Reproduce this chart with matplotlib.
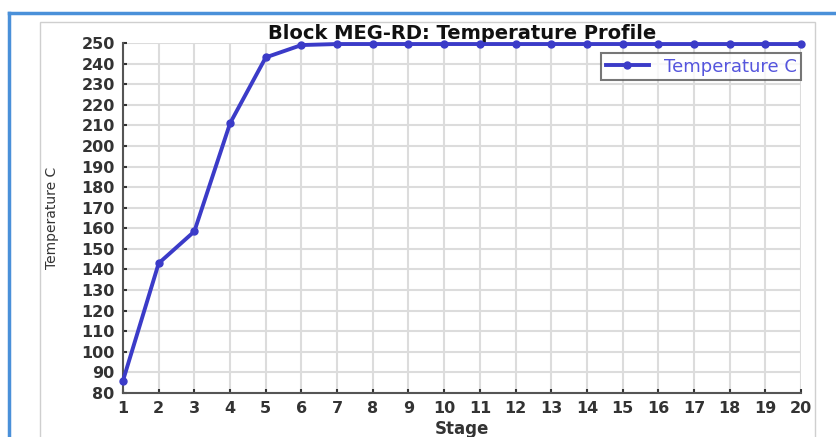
import matplotlib.pyplot as plt
from matplotlib.lines import Line2D
from matplotlib.patches import Rectangle

# Stage temperatures for block MEG-RD
stages = list(range(1, 21))
temperature_c = [86, 143, 158.5, 211, 243, 249, 249.5, 249.5, 249.5, 249.5,
                 249.5, 249.5, 249.5, 249.5, 249.5, 249.5, 249.5, 249.5, 249.5, 249.5]
y_ticks = list(range(80, 251, 10))

line_color = '#3b3bc8'
text_color = '#333333'

fig = plt.figure(figsize=(8.37, 4.37), dpi=100)
fig.patch.set_facecolor('white')

# window frame: blue top/left edge and grey inner panel
W, H = 837, 437
fig.add_artist(Line2D([9 / W, 1], [1 - 13 / H] * 2, color='#4a90d9', lw=2.5, transform=fig.transFigure))
fig.add_artist(Line2D([9 / W] * 2, [0, 1 - 13 / H], color='#4a90d9', lw=2.5, transform=fig.transFigure))
fig.add_artist(Rectangle((40 / W, -0.01), (815 - 40) / W, 1 - 22 / H + 0.01, fill=False,
                         ec='#cfcfcf', lw=1, transform=fig.transFigure))

ax = fig.add_axes([123 / W, 1 - 393 / H, (801 - 123) / W, (393 - 43) / H])
ax.plot(stages, temperature_c, color=line_color, lw=2.8, marker='o', ms=5,
        label='Temperature C', clip_on=False, zorder=5)

ax.set_xlim(1, 20)
ax.set_ylim(80, 250)
ax.set_xticks(stages)
ax.set_yticks(y_ticks)
ax.grid(True, color='#dcdcdc', lw=1.5)
ax.set_axisbelow(True)
for side in ('top', 'right'):
    ax.spines[side].set_visible(False)
for side in ('left', 'bottom'):
    ax.spines[side].set_color('#555555')
    ax.spines[side].set_linewidth(1.5)
ax.tick_params(direction='in', length=3, width=1.5, color='#333333', pad=6,
               labelsize=11.5, labelcolor=text_color)
for lbl in ax.get_xticklabels() + ax.get_yticklabels():
    lbl.set_fontweight('bold')

ax.set_title('Block MEG-RD: Temperature Profile', fontsize=14, fontweight='bold',
             color='#111111', pad=3)
ax.set_xlabel('Stage', fontsize=12, fontweight='bold', color=text_color, labelpad=3)
ax.set_ylabel('Temperature C', fontsize=10, color=text_color, labelpad=16)

leg = ax.legend(loc='upper right', bbox_to_anchor=(1.0, 0.971), borderaxespad=0,
                fontsize=13, frameon=True, fancybox=False, borderpad=0.25,
                handlelength=2.4, labelcolor='#5555dd')
leg.get_frame().set_edgecolor('#555555')
leg.get_frame().set_linewidth(1.5)

fig.savefig('out.png', dpi=100)
